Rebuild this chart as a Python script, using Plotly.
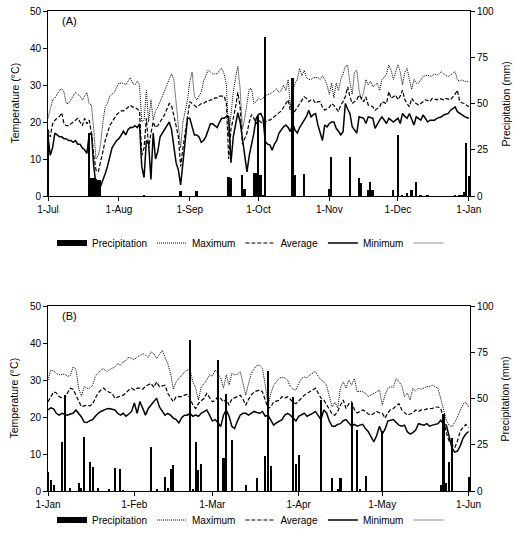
import plotly.graph_objects as go
import pandas as pd

# ---- panel A : 1 Jul 2014 .. 1 Jan 2015, daily temperatures (°C) ----
tmax_a = [
    21, 24, 26, 26.5, 27.5, 28.5, 29, 28, 25, 25, 26, 27, 28, 27.5, 27, 26, 27, 28, 25, 24.5, 18, 10, 11, 14, 20, 24, 25, 27, 27.5, 28, 29.5,
    30.5, 30.5, 30.5, 30, 31, 32, 30.5, 30, 31, 30, 20, 20.5, 28.5, 20, 26, 20.5, 23, 24, 25.5, 27, 28, 29.5, 31, 33, 31.5, 25, 20, 13, 20, 23, 26,
    31, 33.5, 27, 26, 27, 28, 31, 32.5, 34, 33.5, 33, 33, 33, 34, 34.5, 33, 30, 16, 22, 28, 32, 35, 29, 18, 21, 25, 29, 29, 25, 25.5,
    26.5, 26, 26.5, 27, 27.5, 27.5, 28, 28.5, 29, 28, 28.5, 30, 28.5, 31.5, 24, 28, 30.5, 31.5, 34.5, 32.5, 34, 32, 31.5, 31.5, 32, 32, 32, 31.5, 32.5, 31.5, 30,
    27.5, 30.5, 26.5, 30.5, 28.5, 31.5, 33, 35, 35.4, 30.5, 27.5, 33.5, 34, 28.6, 26, 28, 31.5, 30, 31, 29.5, 30, 30.5, 28.5, 31.5, 32, 33, 35.4, 34, 31.5, 33.5,
    35.5, 33.5, 30, 33.5, 34.5, 31.5, 28.8, 31.5, 30.5, 30.5, 31.4, 32.3, 32.5, 32.7, 32.3, 32.5, 33, 32.7, 33, 33.6, 33, 32.5, 32.3, 32.7, 33, 33.6, 31.4, 31, 31.4, 31, 31,
    30.8,
]
tavg_a = [
    18, 16, 19.5, 20.5, 21, 21.5, 22.5, 19.5, 19, 19, 19.5, 20, 20.5, 21, 20, 19, 21, 19.5, 20.5, 17, 11, 7, 6.5, 9, 12, 15, 17, 19, 20, 21, 22,
    22.5, 23, 23, 23.5, 24, 24.5, 24, 24, 23.5, 23, 11, 13, 21, 13, 17, 20, 18.5, 19, 20, 21, 22, 23.5, 25, 24.5, 22, 19, 16, 8, 13, 17, 22,
    25.5, 25, 24.5, 24, 24.5, 25, 25, 25.5, 25.5, 26, 26, 26.5, 26.5, 27, 27, 27, 25, 10, 18, 21, 24, 28, 24, 14, 15.5, 17, 20, 22, 21, 19.5,
    20.5, 20, 19.5, 20, 20.5, 20.5, 21, 21.5, 22, 22.5, 23, 24, 25, 26, 23, 22, 23, 24, 25, 26, 26.8, 26.4, 25.5, 26, 26, 25, 25.5, 25.5, 24, 23.2, 23.5,
    24, 25, 24.5, 23.7, 22.8, 24.6, 25.5, 26.8, 29.5, 26.8, 25, 25.5, 26, 27.3, 26.5, 25.5, 26.8, 24.6, 24.5, 24.1, 23.2, 23.6, 24.1, 25.5, 25.3, 25, 28.2, 26.4, 26.8, 27.3,
    26, 27, 28.6, 26, 25, 24.1, 26.4, 25.5, 25, 24.6, 25, 25.5, 26, 25.8, 25.5, 26.4, 26.2, 26, 26.4, 26.2, 26, 26.4, 26.2, 26, 26.8, 27.5, 28.6, 25.5, 25.2, 25, 24.5,
    24.1,
]
tmin_a = [
    16, 11, 13, 17, 16.5, 16, 16, 15.5, 15.5, 15, 15, 14.5, 15, 14, 14, 13, 12.5, 11.5, 16.5, 17, 8, 3, 1, 2.5, 4, 6, 8, 10.5, 13, 14, 15,
    15.5, 16.5, 17.5, 16.5, 18, 18.5, 18.5, 19, 18.5, 19.5, 8, 5, 15, 14, 4.5, 17, 10, 12, 16, 17, 18, 19, 20, 18, 13, 9, 7, 3, 9, 15, 21,
    21, 18.5, 16.5, 16.5, 16, 14.5, 15, 16, 18, 19.5, 19.5, 19, 18.5, 20, 21, 21, 21.5, 21.5, 9, 16, 19, 22.5, 20, 15, 11, 6.5, 11, 14, 17, 21,
    22, 22.3, 21, 14.7, 14, 13.8, 12.4, 14, 15, 17, 18, 18.7, 19.2, 18.5, 17.4, 19.6, 17.8, 17, 18.5, 19.6, 20.5, 21.5, 23.2, 21.4, 22, 22.3, 19.2, 17, 15, 19.2, 18.7,
    19.6, 20, 20, 18.3, 17.5, 16.5, 17.4, 25, 23.5, 22.3, 18.7, 17.8, 17, 21.4, 21.2, 21, 19.6, 21.4, 21.2, 21, 18.3, 19.5, 20.5, 21.4, 20.5, 19.6, 21, 20.5, 20, 20.5,
    21, 19.6, 22.3, 21.5, 21, 22.3, 20.5, 19.2, 21.4, 21, 20.5, 21.9, 21, 20, 20.5, 20.5, 20.5, 21, 21.2, 21.4, 21.9, 22, 22.3, 23.2, 23.6, 24.1, 22.8, 22.3, 21.9, 21.5, 21.2,
    21,
]
rain_a_dates = [
    "2014-07-01", "2014-07-19", "2014-07-20", "2014-07-21", "2014-07-22", "2014-07-23", "2014-07-24",
    "2014-08-12", "2014-08-28", "2014-09-04", "2014-09-18", "2014-09-19", "2014-09-24", "2014-09-25",
    "2014-09-29", "2014-09-30", "2014-10-01", "2014-10-02", "2014-10-03", "2014-10-04", "2014-10-16",
    "2014-10-17", "2014-10-21", "2014-11-01", "2014-11-02", "2014-11-10", "2014-11-14", "2014-11-15",
    "2014-11-18", "2014-11-19", "2014-11-20", "2014-11-29", "2014-12-01", "2014-12-03", "2014-12-05",
    "2014-12-07", "2014-12-09", "2014-12-11", "2014-12-14", "2014-12-26", "2014-12-28", "2014-12-29",
    "2014-12-30", "2014-12-31", "2015-01-01",
]
rain_a_mm = [
    34, 34, 10, 9.5, 9, 8.5, 8.5,
    0.5, 2.5, 2.5, 10.5, 10, 11.5, 3.8,
    12.6, 12.6, 43, 11.5, 0.5, 86, 64,
    11.5, 12, 3.8, 21, 21, 9.5, 7.2,
    3.2, 7.7, 3.2, 3.2, 33, 0.5, 1.4,
    3.2, 7.7, 0.5, 0.5, 0.3, 0.3, 0.5,
    2, 28.5, 10.8,
]

# ---- panel B : 1 Jan 2015 .. 1 Jun 2015 ----
tmax_b = [
    30, 32.7, 32.5, 31.8, 31.4, 31.5, 31.6, 31, 31.2, 33.5, 33, 27.8, 25.6, 28.2, 27.8, 27.8, 28.5, 31, 32, 32.7, 33.1, 32.2, 32.8, 33.1, 33.5, 34.4, 34, 34.9, 35.3, 36.2, 35.8,
    35.5, 36.2, 36.7, 37.1, 36.7, 36.1, 37.6, 37.1, 35.8, 37.1, 38, 36.2, 34.4, 31.8, 27.5, 29.5, 30.4, 31.4, 32.2, 32.7, 32.7, 29.5, 27.8, 24.6, 28.2, 29, 30, 31.4,
    31, 32.7, 31.5, 30.5, 27.8, 31.4, 28.6, 31.8, 31.4, 31.6, 32.3, 29.1, 25.9, 29.1, 31.8, 33, 34, 34, 33.1, 28.6, 23.2, 26.4, 28.5, 29.5, 30.4, 30.8, 30.6, 30, 28.2, 27.5, 27.3,
    29.1, 30.4, 30.8, 30.6, 31.4, 31.8, 32.3, 31, 30, 29.5, 28.6, 25.6, 22.7, 24, 22.5, 28, 29.5, 27.8, 30, 28.6, 30.4, 26.8, 27, 26.8, 26.4, 25.5, 26, 26.5, 26.8, 27.3,
    23.2, 25.9, 27.8, 28.2, 28, 30.4, 29.5, 28.5, 25.5, 26.5, 24.6, 27.8, 27, 27.8, 27.5, 27.8, 28.2, 28.2, 28.6, 28.2, 27.8, 25, 22.3, 19.1, 17.8, 17.3, 18.5, 20, 21.7, 23.5, 24,
    22.7,
]
tavg_b = [
    24.1, 25.5, 26.8, 26.5, 25.5, 25.2, 25, 26.5, 27.8, 27.5, 26, 24.1, 22.8, 23, 23.2, 23, 23.5, 25.1, 26.5, 27.3, 27.8, 27, 26.6, 26.4, 25.1, 25.3, 25.5, 25.9, 26.5, 27.3, 27.8,
    27.3, 27.8, 27.8, 27.5, 28.3, 28.7, 29.1, 28, 29.5, 28.2, 28.5, 28.6, 26.4, 25.1, 24.1, 25.5, 25.5, 25.5, 25.9, 26.1, 25.1, 23.2, 22.3, 23.6, 24.4, 25, 26.4, 25.1,
    24.1, 24.5, 25.5, 25, 24.1, 24.8, 23.2, 24.8, 25.2, 25.5, 25.9, 24.8, 23.2, 24.8, 26, 26.8, 27, 27.3, 26.8, 24.8, 22.3, 22.7, 24.1, 24.3, 24.5, 25.5, 25.1, 25.5, 24.6, 24, 23.6,
    24.5, 25.1, 25.9, 26.3, 26.8, 27.3, 27.8, 26.4, 25.1, 24.6, 23.2, 21.9, 20.8, 20.5, 21.5, 23.2, 24.6, 22.3, 23.6, 24.1, 22, 21.1, 21.5, 21.9, 21.5, 20.8, 20.5, 21.1, 21.5, 21.1,
    21, 19.7, 21.1, 22, 22.3, 23, 23.6, 21.9, 21.1, 20.5, 20.8, 21.1, 21.9, 21.5, 21.9, 21.9, 22.2, 22.3, 22.3, 22.7, 22.7, 22.3, 19.7, 15.7, 13.5, 12.5, 11.7, 13.5, 16.2, 17.2, 18,
    17.1,
]
tmin_b = [
    21.9, 22.5, 22.2, 21, 20.5, 21, 20.7, 20.5, 20.8, 21, 21.9, 21, 20, 18.6, 18.5, 19, 19.3, 20.2, 21, 21.5, 21.9, 22.2, 22.3, 22, 21.9, 21, 20.5, 21, 20.2, 20.8, 21.5,
    23.8, 21, 24.2, 22.3, 20.5, 22.3, 23.2, 24, 25.1, 22.7, 21.5, 20.5, 21, 20.5, 19.7, 19.3, 18.4, 19.8, 20.5, 20.5, 21, 20.2, 20.5, 20.2, 21, 21.5, 21.9, 20.5,
    18.9, 19.3, 18.5, 17.4, 20.5, 21.9, 20.2, 17.5, 16.9, 18.9, 20.5, 21, 21, 20.5, 21, 21.5, 21.2, 21, 21.5, 20.2, 20.5, 19.3, 17.8, 18.4, 18.9, 19.3, 20.5, 21, 20.5, 19.8, 18.9,
    20.2, 20.5, 21, 20.2, 20.5, 21, 21.5, 20.5, 19.3, 21.9, 21.1, 18.9, 17.5, 17.5, 18, 18.2, 19, 19.3, 18.4, 17.5, 18, 17.5, 17.8, 18, 16.8, 16, 14.6, 13.3, 15, 17.5,
    15.4, 16.7, 18.9, 19.1, 19.3, 18.5, 17.8, 17.5, 17.8, 16, 15.4, 15.8, 16.5, 18.2, 17.9, 17.8, 18.2, 17.5, 17.8, 17.9, 18.2, 19.1, 18, 17.8, 15, 11.7, 10.5, 10.8, 12.2, 14.3, 15.4,
    16.1,
]
rain_b_dates = [
    "2015-01-01", "2015-01-02", "2015-01-03", "2015-01-06", "2015-01-07", "2015-01-09", "2015-01-12",
    "2015-01-13", "2015-01-14", "2015-01-16", "2015-01-17", "2015-01-19", "2015-01-23", "2015-01-25",
    "2015-01-27", "2015-01-28", "2015-02-07", "2015-02-09", "2015-02-12", "2015-02-13", "2015-02-14",
    "2015-02-15", "2015-02-21", "2015-02-22", "2015-02-23", "2015-02-24", "2015-02-25", "2015-03-03",
    "2015-03-05", "2015-03-06", "2015-03-08", "2015-03-13", "2015-03-17", "2015-03-20", "2015-03-21",
    "2015-03-22", "2015-03-30", "2015-03-31", "2015-04-01", "2015-04-09", "2015-04-13", "2015-04-15",
    "2015-04-16", "2015-04-20", "2015-04-22", "2015-04-23", "2015-04-25", "2015-05-01", "2015-05-22",
    "2015-05-23", "2015-05-24", "2015-05-25", "2015-05-26", "2015-06-01",
]
rain_b_mm = [
    10.4, 5.9, 3, 26.3, 51.9, 1.8, 4.3,
    1.5, 29, 15.5, 12.8, 1.5, 1, 12.3,
    11.7, 0.5, 23.6, 1.2, 7.7, 1.5, 11.9,
    14, 81.5, 0.8, 26.3, 11.4, 14.4, 70.8,
    18, 52.3, 27.6, 3.3, 6.9, 19.1, 64.9,
    13.5, 51, 14.8, 19.5, 49, 7.2, 1,
    7.2, 47.7, 33, 1, 8.1, 32.5, 3.3,
    41.5, 4.1, 15.5, 28.5, 7.8,
]

days_a = pd.date_range("2014-07-01", periods=len(tmax_a), freq="D")
days_b = pd.date_range("2015-01-01", periods=len(tmax_b), freq="D")

FONT = "Liberation Sans, Arial, sans-serif"
DAY_MS = 86400000
H = 550.0
L = 48.0      # left margin
PW = 422.0    # plot width

fig = go.Figure()


def add_panel(days, tmax, tavg, tmin, rdates, rmm, xa, ya, ya2, leg):
    fig.add_trace(go.Bar(x=pd.to_datetime(rdates), y=rmm, width=0.75 * DAY_MS,
                         marker=dict(color="black", line=dict(width=0)),
                         xaxis=xa, yaxis=ya2, showlegend=False))
    # legend-only entry so the precipitation key is a wide black box
    fig.add_trace(go.Scatter(x=[None], y=[None], mode="lines", name="Precipitation",
                             line=dict(color="black", width=6),
                             xaxis=xa, yaxis=ya, legend=leg))
    fig.add_trace(go.Scatter(x=days, y=tmax, mode="lines", name="Maximum",
                             line=dict(color="black", width=1, dash="1px,1px"),
                             xaxis=xa, yaxis=ya, legend=leg))
    fig.add_trace(go.Scatter(x=days, y=tavg, mode="lines", name="Average",
                             line=dict(color="black", width=1.2, dash="4px,2px"),
                             xaxis=xa, yaxis=ya, legend=leg))
    fig.add_trace(go.Scatter(x=days, y=tmin, mode="lines", name="Minimum",
                             line=dict(color="black", width=1.5),
                             xaxis=xa, yaxis=ya, legend=leg))
    fig.add_trace(go.Scatter(x=[None], y=[None], mode="lines", name=" ",
                             line=dict(color="#b4b4b4", width=1.5),
                             xaxis=xa, yaxis=ya, legend=leg))


add_panel(days_a, tmax_a, tavg_a, tmin_a, rain_a_dates, rain_a_mm, "x", "y", "y2", "legend")
add_panel(days_b, tmax_b, tavg_b, tmin_b, rain_b_dates, rain_b_mm, "x2", "y3", "y4", "legend2")

axis_common = dict(showline=True, linecolor="black", linewidth=1, ticks="outside",
                   ticklen=4, tickcolor="black", showgrid=False, zeroline=False,
                   tickfont=dict(size=10, color="black"))

dom_a = [1 - 196 / H, 1 - 11 / H]
dom_b = [1 - 491 / H, 1 - 306 / H]


def xaxis(anchor, start, end):
    return dict(axis_common, anchor=anchor, domain=[0, 1], type="date",
                range=[start, end], tickformat="%-d-%b",
                tickvals=pd.date_range(start[:10], end[:10], freq="MS"), mirror=True)


def ytemp(anchor, dom):
    return dict(axis_common, anchor=anchor, domain=dom, range=[0, 50], dtick=10,
                ticklabeloverflow="allow")


def yrain(anchor, over):
    return dict(axis_common, anchor=anchor, overlaying=over, side="right",
                range=[0, 100], dtick=25, ticklabeloverflow="allow")


def side_title(text, xpx, ypx):
    return dict(text=text, xref="paper", yref="paper", x=(xpx - L) / PW, y=1 - ypx / H,
                xanchor="center", yanchor="middle", textangle=-90, showarrow=False,
                font=dict(size=10.5))


legend_common = dict(orientation="h", xanchor="left", yanchor="middle", xref="container",
                     font=dict(size=10, color="black"), bgcolor="rgba(0,0,0,0)",
                     traceorder="normal")

fig.update_layout(
    width=515, height=550,
    margin=dict(l=L, r=515 - L - PW, t=0, b=0, autoexpand=False),
    paper_bgcolor="white", plot_bgcolor="white",
    font=dict(family=FONT, size=10, color="black"),
    xaxis=xaxis("y", "2014-07-01", "2015-01-01 12:00"),
    yaxis=ytemp("x", dom_a),
    yaxis2=yrain("x", "y"),
    xaxis2=xaxis("y3", "2015-01-01", "2015-06-01 12:00"),
    yaxis3=ytemp("x2", dom_b),
    yaxis4=yrain("x2", "y3"),
    legend=dict(legend_common, x=52 / 515, y=1 - 243 / H),
    legend2=dict(legend_common, x=52 / 515, y=1 - 520 / H),
    bargap=0,
    annotations=[
        dict(text="(A)", xref="paper", yref="paper", x=(60 - L) / PW, y=1 - 21 / H,
             xanchor="left", yanchor="middle", showarrow=False, font=dict(size=11)),
        dict(text="(B)", xref="paper", yref="paper", x=(60 - L) / PW, y=1 - 316 / H,
             xanchor="left", yanchor="middle", showarrow=False, font=dict(size=11)),
        side_title("Temperature (°C)", 14, 103.5),
        side_title("Precipitation (mm)", 505, 103.5),
        side_title("Temperature (°C)", 14, 398.5),
        side_title("Precipitation (mm)", 505, 398.5),
    ],
)

# the page's default body margin would push the figure 8px right and down
fig.write_html("out.html", config={"displayModeBar": False},
               post_script="document.body.style.margin='0px';document.body.style.overflow='hidden';")
